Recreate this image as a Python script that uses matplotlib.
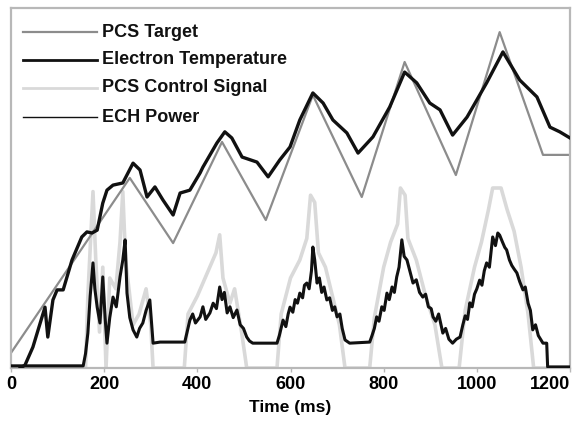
import numpy as np
import matplotlib
matplotlib.use("Agg")
import matplotlib.pyplot as plt

# time (ms), arbitrary units 0-100
target_pts = [(0, 4.2), (255, 52.8), (348, 34.7), (453, 62.8), (547, 41.1),
              (648, 75.8), (753, 47.5), (845, 85.0), (955, 53.6), (1049, 93.3),
              (1142, 59.2), (1200, 59.2)]

te_pts = [(20, 0), (30, 0.8), (47, 5.8), (73, 16.9), (79, 8.6), (90, 18.9), (99, 21.7),
          (112, 21.7), (131, 30), (152, 36.4), (163, 37.8), (174, 37.5), (185, 38.3),
          (197, 45.8), (206, 49.4), (219, 50.8), (240, 51.4), (262, 56.9), (277, 55),
          (292, 47.5), (309, 50.3), (326, 46.7), (348, 42.5), (363, 48.6), (384, 49.4),
          (406, 54.2), (412, 55.8), (442, 62.5), (459, 65.6), (474, 63.9), (496, 58.6),
          (528, 57.2), (552, 53.1), (577, 57.8), (599, 61.4), (620, 68.9), (648, 76.4),
          (670, 73.6), (691, 68.9), (721, 65.3), (745, 59.7), (777, 64.2), (813, 72.5),
          (845, 82.2), (871, 79.2), (899, 73.6), (921, 71.7), (948, 64.7), (979, 69.7),
          (1021, 79.2), (1056, 87.8), (1092, 80), (1129, 75.3), (1157, 66.9),
          (1178, 65.6), (1200, 63.9)]

ctrl_pts = [(0, 0), (160, 0), (165, 20), (176, 49), (182, 30), (190, 10), (197, 28),
            (204, 0), (212, 25), (225, 22), (234, 35), (240, 49), (246, 30), (255, 20),
            (262, 12), (275, 15), (290, 22), (300, 12), (305, 0), (372, 0), (380, 15),
            (400, 20), (420, 26), (440, 32), (448, 37), (455, 25), (470, 18), (480, 22),
            (495, 10), (506, 0), (571, 0), (580, 15), (600, 25), (620, 30), (635, 36),
            (643, 48), (652, 46), (660, 32), (675, 28), (690, 20), (705, 12), (717, 0),
            (770, 0), (780, 14), (800, 28), (815, 35), (830, 40), (836, 50), (846, 48),
            (852, 36), (870, 30), (890, 20), (910, 12), (925, 0), (962, 0), (975, 16),
            (995, 28), (1010, 35), (1025, 44), (1034, 50), (1052, 50), (1065, 44),
            (1080, 38), (1095, 28), (1110, 15), (1122, 0), (1200, 0)]

ech_pts = [(0, 0.6), (155, 0.6), (160, 4), (165, 9.7), (170, 20), (176, 29.2), (180, 22),
           (185, 16.9), (191, 12.5), (197, 25.3), (202, 14), (206, 6.9), (212, 14),
           (219, 19.7), (226, 17), (234, 25.3), (240, 30), (245, 35.6), (249, 20.8),
           (255, 14), (262, 10.6), (270, 8.6), (276, 11), (283, 12.5), (290, 16),
           (298, 18.9), (305, 6.9), (320, 7.2), (373, 7.2), (378, 10), (384, 13.3),
           (390, 15), (396, 12.5), (406, 14.2), (412, 17), (418, 13.5), (427, 15.3),
           (434, 18), (441, 16.5), (448, 22.5), (453, 19), (458, 21), (464, 15.3),
           (470, 17), (477, 14), (485, 16.1), (492, 12), (499, 11), (506, 8.6),
           (512, 7.5), (519, 6.9), (571, 6.9), (576, 9), (584, 13.3), (590, 11.5),
           (595, 15), (599, 16.9), (605, 15.5), (610, 19), (615, 18), (620, 20.8),
           (626, 19.5), (630, 23), (635, 23.6), (640, 22), (645, 27), (648, 33.6),
           (652, 30), (657, 23.6), (662, 25), (667, 21), (672, 22.5), (678, 18.9),
           (684, 19.5), (690, 16), (695, 17), (700, 14.2), (706, 15), (711, 11),
           (717, 7.8), (727, 6.9), (770, 7.2), (775, 9), (780, 11), (785, 14.2),
           (790, 13), (796, 17), (801, 16), (807, 20.8), (812, 19), (818, 22.5),
           (823, 21), (828, 25.3), (833, 28), (839, 35.6), (844, 31), (850, 30),
           (856, 27), (863, 23.6), (870, 24.5), (877, 21), (884, 19.7), (890, 20.5),
           (896, 17), (902, 16.5), (906, 14.2), (912, 13), (918, 15), (927, 9.7),
           (933, 11), (940, 8), (948, 6.9), (956, 8), (964, 8.6), (970, 12),
           (975, 14.5), (980, 13.5), (985, 18.1), (990, 17), (995, 20.5), (1000, 22),
           (1006, 24.4), (1011, 23), (1016, 27), (1021, 29.2), (1027, 28), (1034, 36.4),
           (1040, 34), (1045, 37.5), (1049, 36.9), (1055, 35), (1060, 33.5),
           (1064, 32.8), (1070, 30), (1075, 28.5), (1080, 27.5), (1086, 26.4),
           (1092, 24), (1099, 21.7), (1104, 22.5), (1110, 18), (1115, 16), (1120, 10.6),
           (1126, 12), (1132, 9), (1142, 6.9), (1150, 6.9), (1152, 0.3), (1200, 0.3)]

xticks = [0, 200, 400, 600, 800, 1000, 1200]
labels = ["PCS Target", "Electron Temperature", "PCS Control Signal", "ECH Power"]

FONT = ["Liberation Sans", "DejaVu Sans"]
C_TARGET = "#8c8c8c"
C_CTRL = "#d9d9d9"
C_FRAME = "#b8b8b8"

fig = plt.figure(figsize=(5.88, 4.24), dpi=100)
ax = fig.add_axes([11 / 588, 56 / 424, 559 / 588, 360 / 424])

ct, cy = np.array(ctrl_pts).T
ax.plot(ct, cy, color=C_CTRL, lw=2.6, zorder=1)
tt, ty = np.array(target_pts).T
ax.plot(tt, ty, color=C_TARGET, lw=1.6, zorder=2)
et, ey = np.array(ech_pts).T
ax.plot(et, ey, color="#111111", lw=2.2, zorder=3)
te_t, te_y = np.array(te_pts).T
ax.plot(te_t, te_y, color="#111111", lw=2.4, zorder=4)

ax.set_xlim(0, 1200)
ax.set_ylim(0, 100)
ax.set_yticks([])
ax.set_xticks(xticks)
ax.set_xticklabels([str(v) for v in xticks], family=FONT, fontweight="bold", fontsize=13)
ax.get_xticklabels()[-1].set_horizontalalignment("right")
ax.tick_params(axis="x", length=3, width=1, color=C_FRAME, pad=3)
for s in ax.spines.values():
    s.set_color(C_FRAME)
    s.set_linewidth(1.6)
ax.set_xlabel("Time (ms)", family=FONT, fontweight="bold", fontsize=12.5, labelpad=5)

# hand-drawn style legend
leg_y = [0.933, 0.856, 0.778, 0.697]
leg_style = [(C_TARGET, 1.6), ("#111111", 2.0), (C_CTRL, 2.0), ("#111111", 1.0)]
for lab, yy, (c, lw) in zip(labels, leg_y, leg_style):
    ax.plot([0.0215, 0.154], [yy, yy], color=c, lw=lw, transform=ax.transAxes,
            clip_on=False, zorder=5)
    ax.text(0.163, yy, lab, transform=ax.transAxes, ha="left", va="center",
            family=FONT, fontweight="bold", fontsize=13, color="#111111")

fig.savefig("out.png", dpi=100)
